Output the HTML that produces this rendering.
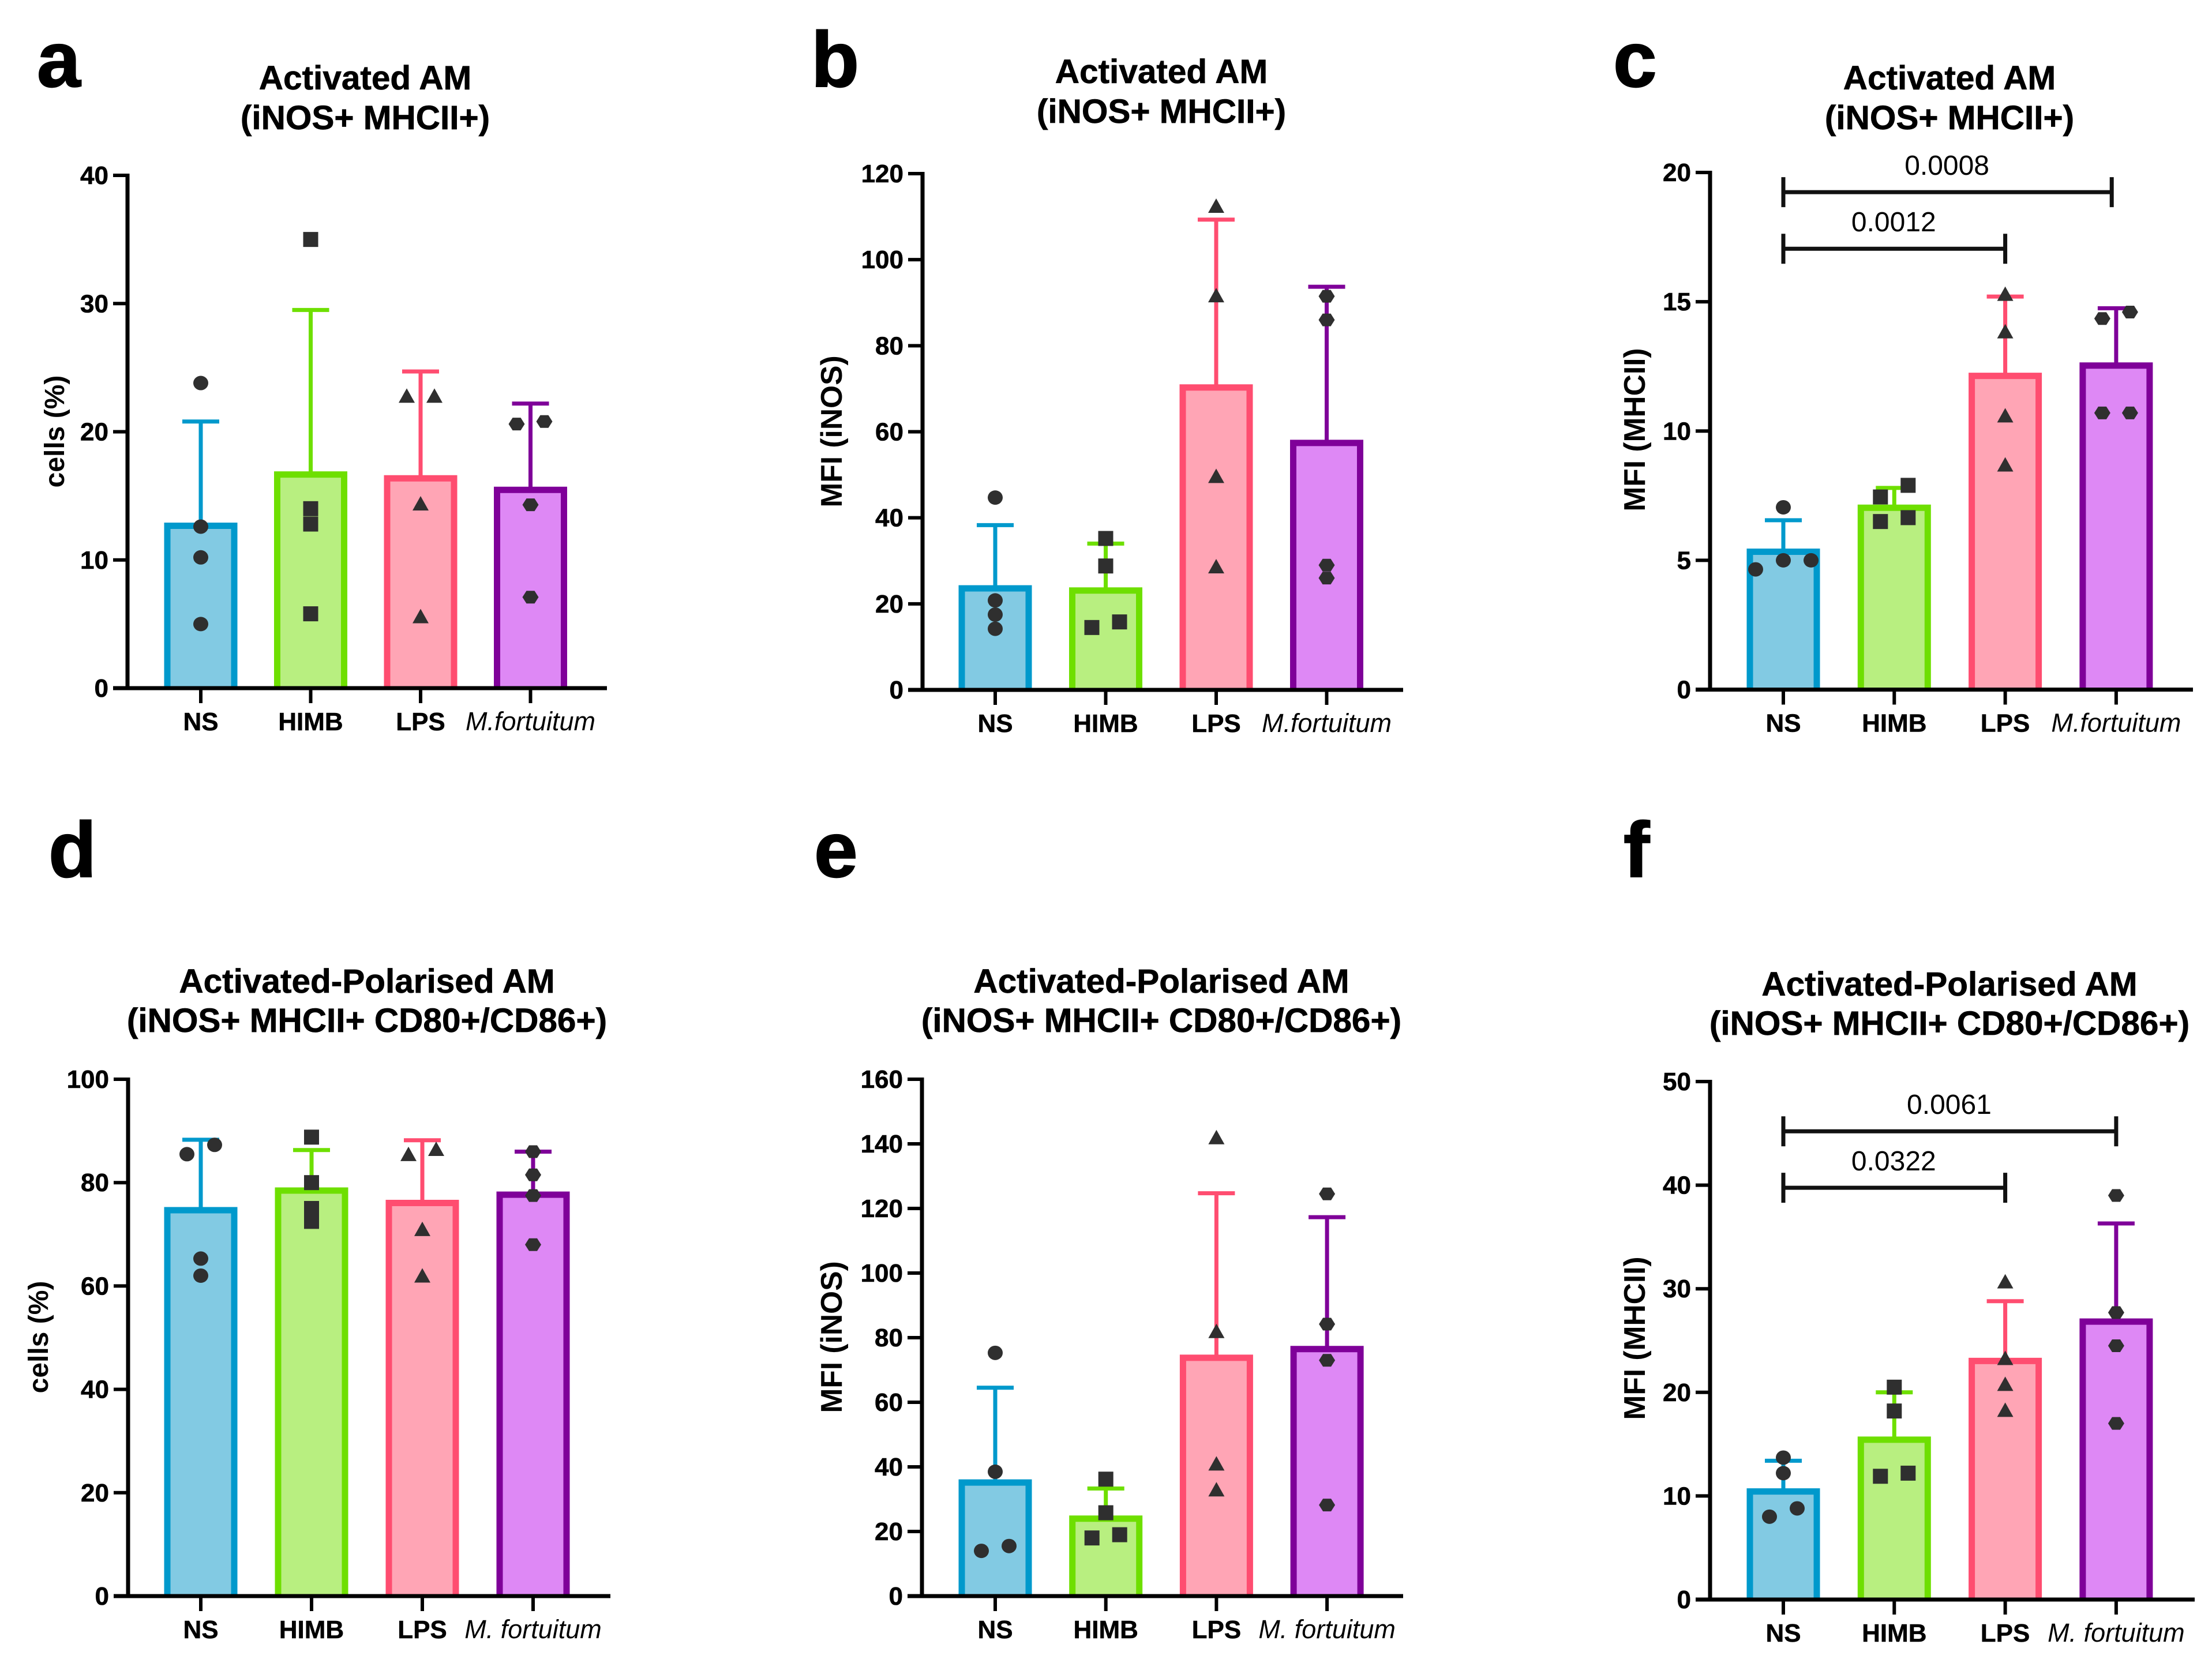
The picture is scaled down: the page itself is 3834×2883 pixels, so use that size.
<!DOCTYPE html>
<html lang="en">
<head>
<meta charset="utf-8">
<title>Activated and polarised AM panels</title>
<style>
html,body{margin:0;padding:0;background:#fff;}
svg{display:block;}
text{font-family:"Liberation Sans",sans-serif;fill:#000;}
.letter{font-size:136px;font-weight:700;stroke:#000;stroke-width:2px;}
.title{font-size:58.5px;font-weight:700;text-anchor:middle;stroke:#000;stroke-width:.7px;}
.ytitle{font-size:48px;font-weight:700;text-anchor:middle;}
.ytitle-mfi{font-size:51.5px;font-weight:700;text-anchor:middle;}
.tick{font-size:44px;font-weight:700;text-anchor:end;stroke:#000;stroke-width:.6px;}
.cat{font-size:44px;font-weight:700;text-anchor:middle;stroke:#000;stroke-width:.5px;}
.cat-italic{font-size:45px;font-weight:400;font-style:italic;text-anchor:middle;}
.pval{font-size:48px;font-weight:400;text-anchor:middle;}
</style>
</head>
<body>
<svg id="figure" xmlns="http://www.w3.org/2000/svg" width="3834" height="2883" viewBox="0 0 3834 2883">
  <rect width="3834" height="2883" fill="#fff"/>

  <text class="letter" x="64" y="150">a</text>
  <text class="letter" x="1406" y="150">b</text>
  <text class="letter" x="2796" y="150">c</text>
  <text class="letter" x="84" y="1520">d</text>
  <text class="letter" x="1411" y="1520">e</text>
  <text class="letter" x="2814" y="1520">f</text>

  <g><text class="title" x="633" y="155">Activated AM</text><text class="title" x="633" y="224">(iNOS+ MHCII+)</text></g>
  <g><text class="title" x="2013" y="144">Activated AM</text><text class="title" x="2013" y="213">(iNOS+ MHCII+)</text></g>
  <g><text class="title" x="3379" y="155">Activated AM</text><text class="title" x="3379" y="224">(iNOS+ MHCII+)</text></g>
  <g><text class="title" x="636" y="1721">Activated-Polarised AM</text><text class="title" x="636" y="1789">(iNOS+ MHCII+ CD80+/CD86+)</text></g>
  <g><text class="title" x="2013" y="1721">Activated-Polarised AM</text><text class="title" x="2013" y="1789">(iNOS+ MHCII+ CD80+/CD86+)</text></g>
  <g><text class="title" x="3379" y="1726">Activated-Polarised AM</text><text class="title" x="3379" y="1794">(iNOS+ MHCII+ CD80+/CD86+)</text></g>

  <text class="ytitle" transform="translate(111,748) rotate(-90)">cells (%)</text>
  <text class="ytitle-mfi" transform="translate(1459,748) rotate(-90)">MFI (iNOS)</text>
  <text class="ytitle-mfi" transform="translate(2851,745) rotate(-90)">MFI (MHCII)</text>
  <text class="ytitle" transform="translate(83,2318) rotate(-90)">cells (%)</text>
  <text class="ytitle-mfi" transform="translate(1459,2318) rotate(-90)">MFI (iNOS)</text>
  <text class="ytitle-mfi" transform="translate(2851,2320) rotate(-90)">MFI (MHCII)</text>
</svg>

<script>
// Shared category labels
const topCategories = ['NS', 'HIMB', 'LPS', 'M.fortuitum'];
const bottomCategories = ['NS', 'HIMB', 'LPS', 'M. fortuitum'];
const fillColors = ['#82CAE3', '#B8EF80', '#FFA5B5', '#DE88F5'];
const strokeColors = ['#0099CC', '#6EDF00', '#FF4D70', '#7F0099'];
const markerShapes = ['circle', 'square', 'triangle', 'hexagon'];

// Panel a
const aTicks = [0, 10, 20, 30, 40];
const aBars = [12.8, 16.8, 16.5, 15.6];
const aErrors = [20.8, 29.5, 24.7, 22.2];
const aPoints = [[23.8, 12.6, 10.2, 5], [35, 14, 12.8, 5.8], [22.8, 22.8, 14.4, 5.6], [20.6, 20.8, 14.3, 7.1]];
const aSlots = [[0, 0, 0, 0], [0, 0, 0, 0], [-1, 1, 0, 0], [-1, 1, 0, 0]];

// Panel b
const bTicks = [0, 20, 40, 60, 80, 100, 120];
const bBars = [24, 23.5, 70.7, 57.8];
const bErrors = [38.3, 34, 109.3, 93.7];
const bPoints = [[44.7, 20.8, 17.5, 14.2], [35.2, 28.8, 14.5, 15.8], [112.5, 91.7, 49.7, 28.7], [91.5, 86, 29, 26]];
const bSlots = [[0, 0, 0, 0], [0, 0, -1, 1], [0, 0, 0, 0], [0, 0, 0, 0]];

// Panel c
const cTicks = [0, 5, 10, 15, 20];
const cBars = [5.4, 7.1, 12.2, 12.6];
const cErrors = [6.55, 7.8, 15.2, 14.75];
const cPoints = [[7.05, 5, 5, 4.65], [7.9, 7.45, 6.65, 6.5], [15.3, 13.85, 10.6, 8.7], [14.6, 14.35, 10.7, 10.7]];
const cSlots = [[0, 0, 2, -2], [1, -1, 1, -1], [0, 0, 0, 0], [1, -1, -1, 1]];
const cBracketFrom = [0, 0];
const cBracketTo = [2, 2.96];
const cBracketValue = [17.05, 19.24];
const cBracketLabel = ['0.0012', '0.0008'];

// Panel d
const dTicks = [0, 20, 40, 60, 80, 100];
const dBars = [75, 78.8, 76.4, 78];
const dErrors = [88.3, 86.3, 88.2, 86];
const dPoints = [[87.3, 85.5, 65.3, 62], [88.8, 80, 75, 72.5], [86.5, 85.5, 71, 62], [86, 81.5, 77.5, 68]];
const dSlots = [[1, -1, 0, 0], [0, 0, 0, 0], [1, -1, 0, 0], [0, 0, 0, 0]];

// Panel e
const eTicks = [0, 20, 40, 60, 80, 100, 120, 140, 160];
const eBars = [35.7, 24.5, 74.3, 77];
const eErrors = [64.5, 33.3, 124.7, 117.3];
const ePoints = [[75.3, 38.5, 15.5, 14], [36.2, 25.8, 19, 18], [142, 82, 41, 33], [124.5, 84.2, 73, 28.2]];
const eSlots = [[0, 0, 1, -1], [0, 0, 1, -1], [0, 0, 0, 0], [0, 0, 0, 0]];

// Panel f
const fTicks = [0, 10, 20, 30, 40, 50];
const fBars = [10.6, 15.6, 23.2, 27];
const fErrors = [13.4, 20, 28.8, 36.3];
const fPoints = [[13.7, 12.2, 8.8, 8], [20.5, 18.2, 12.2, 11.9], [30.7, 23.3, 20.8, 18.3], [39, 27.7, 24.5, 17]];
const fSlots = [[0, 0, 1, -1], [0, 0, 1, -1], [0, 0, 0, 0], [0, 0, 0, 0]];
const fBracketFrom = [0, 0];
const fBracketTo = [2, 3];
const fBracketValue = [39.75, 45.2];
const fBracketLabel = ['0.0322', '0.0061'];

const SVG_NS = 'http://www.w3.org/2000/svg';
const figure = document.getElementById('figure');

function make(tag, attrs, parent) {
  const node = document.createElementNS(SVG_NS, tag);
  for (const key in attrs) node.setAttribute(key, attrs[key]);
  parent.appendChild(node);
  return node;
}

function markerEl(shape, cx, cy, parent) {
  let el;
  if (shape === 'circle') {
    el = make('ellipse', { cx: cx, cy: cy, rx: 13, ry: 12.5 }, parent);
  } else if (shape === 'square') {
    el = make('rect', { x: cx - 13, y: cy - 13, width: 26, height: 26 }, parent);
  } else if (shape === 'triangle') {
    el = make('polygon', { points: (cx - 14) + ',' + (cy + 12) + ' ' + (cx + 14) + ',' + (cy + 12) + ' ' + cx + ',' + (cy - 13) }, parent);
  } else {
    el = make('polygon', { points: (cx - 14) + ',' + cy + ' ' + (cx - 7) + ',' + (cy - 11) + ' ' + (cx + 7) + ',' + (cy - 11) + ' ' + (cx + 14) + ',' + cy + ' ' + (cx + 7) + ',' + (cy + 11) + ' ' + (cx - 7) + ',' + (cy + 11) }, parent);
  }
  el.setAttribute('fill', '#2F2F2F');
  return el;
}

function drawPanel(id, frame, categories, ticks, bars, errors, points, slots, brFrom, brTo, brValue, brLabel) {
  const yMax = ticks[ticks.length - 1];
  const yScale = function (v) { return frame.y0 - (v / yMax) * (frame.y0 - frame.yTop); };
  const xScale = function (i) { return frame.first + i * frame.step; };
  const slotWidth = 24;

  const panel = make('g', {}, figure);
  
  

  categories.forEach(function (name, i) {
    const x = xScale(i);
    const top = yScale(bars[i]);

    const err = make('line', { x1: x, x2: x, y1: top, y2: yScale(errors[i]), stroke: strokeColors[i], 'stroke-width': 7 }, panel);
    
    

    const cap = make('line', { x1: x - 32, x2: x + 32, y1: yScale(errors[i]), y2: yScale(errors[i]), stroke: strokeColors[i], 'stroke-width': 7 }, panel);
    
    

    // Fill plus a three-sided outline, so the outline stops at the x axis as in the reference
    const bar = make('rect', { x: x - 58, y: top + 3, width: 116, height: Math.max(0, frame.y0 - top - 3), fill: fillColors[i] }, panel);
    
    

    const outline = make('path', { d: 'M' + (x - 58) + ' ' + frame.y0 + 'V' + (top + 3) + 'H' + (x + 58) + 'V' + frame.y0, fill: 'none', stroke: strokeColors[i], 'stroke-width': 11 }, panel);
    
    
  });

  categories.forEach(function (name, i) {
    points[i].forEach(function (v, j) {
      const dot = markerEl(markerShapes[i], xScale(i) + slots[i][j] * slotWidth, yScale(v), panel);
      
      
    });
  });

  const yAxis = make('line', { x1: frame.x0, x2: frame.x0, y1: frame.yTop - 3, y2: frame.y0 + 3, stroke: '#000', 'stroke-width': 7 }, panel);
  
  

  const xAxis = make('line', { x1: frame.x0 - 25, x2: frame.xEnd + 2, y1: frame.y0, y2: frame.y0, stroke: '#000', 'stroke-width': 7 }, panel);
  
  

  ticks.forEach(function (t) {
    const mark = make('line', { x1: frame.x0 - 25, x2: frame.x0, y1: yScale(t), y2: yScale(t), stroke: '#000', 'stroke-width': 6 }, panel);
    
    

    const label = make('text', { class: 'tick', x: frame.x0 - 33, y: yScale(t) + 15 }, panel);
    label.textContent = String(t);
    
    
  });

  categories.forEach(function (name, i) {
    const mark = make('line', { x1: xScale(i), x2: xScale(i), y1: frame.y0, y2: frame.y0 + 26, stroke: '#000', 'stroke-width': 6 }, panel);
    
    

    const label = make('text', { class: i === 3 ? 'cat-italic' : 'cat', x: xScale(i), y: frame.y0 + 73 }, panel);
    label.textContent = name;
    
    
  });

  (brValue || []).forEach(function (v, k) {
    const xa = xScale(brFrom[k]);
    const xb = xScale(brTo[k]);
    const y = yScale(v);
    const bracket = make('path', { d: 'M' + xa + ' ' + (y - 26) + 'V' + (y + 26) + 'M' + xa + ' ' + y + 'H' + xb + 'M' + xb + ' ' + (y - 26) + 'V' + (y + 26), fill: 'none', stroke: '#111', 'stroke-width': 7 }, panel);
    
    

    const label = make('text', { class: 'pval', x: (xa + xb) / 2 - 1, y: y - 30 }, panel);
    label.textContent = brLabel[k];
    
    
  });
}

drawPanel('a', { x0: 221, y0: 1193, yTop: 304, first: 348, step: 190.5, xEnd: 1050 }, topCategories, aTicks, aBars, aErrors, aPoints, aSlots);
drawPanel('b', { x0: 1599, y0: 1196, yTop: 301, first: 1725, step: 191.5, xEnd: 2430 }, topCategories, bTicks, bBars, bErrors, bPoints, bSlots);
drawPanel('c', { x0: 2964, y0: 1195.5, yTop: 299, first: 3091, step: 192.3, xEnd: 3799 }, topCategories, cTicks, cBars, cErrors, cPoints, cSlots, cBracketFrom, cBracketTo, cBracketValue, cBracketLabel);
drawPanel('d', { x0: 222, y0: 2767, yTop: 1871, first: 348, step: 192, xEnd: 1056 }, bottomCategories, dTicks, dBars, dErrors, dPoints, dSlots);
drawPanel('e', { x0: 1598, y0: 2767, yTop: 1871, first: 1725, step: 191.7, xEnd: 2430 }, bottomCategories, eTicks, eBars, eErrors, ePoints, eSlots);
drawPanel('f', { x0: 2964, y0: 2773, yTop: 1875, first: 3091, step: 192.3, xEnd: 3802 }, bottomCategories, fTicks, fBars, fErrors, fPoints, fSlots, fBracketFrom, fBracketTo, fBracketValue, fBracketLabel);
</script>
</body>
</html>
